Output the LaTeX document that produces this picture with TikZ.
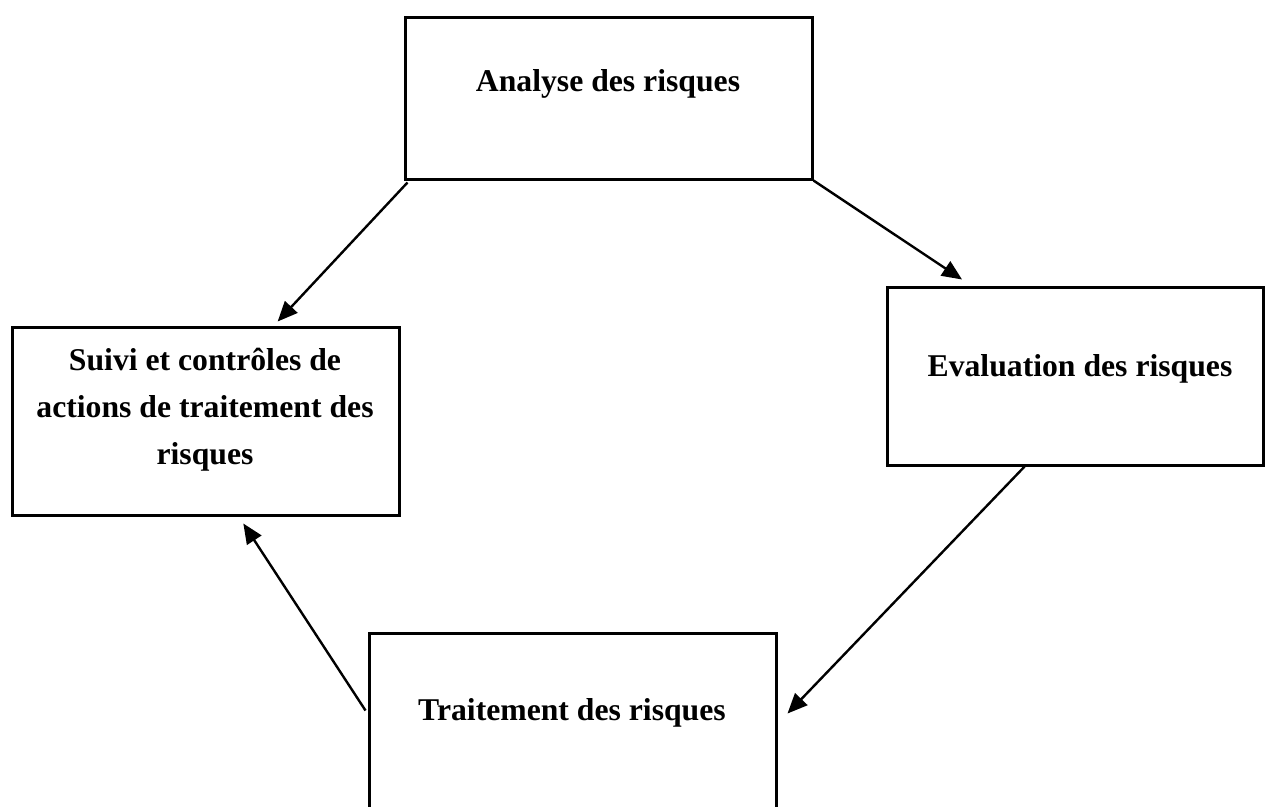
\documentclass[tikz,border=0pt]{standalone}
\usepackage{fontspec}
\setmainfont{Liberation Serif}
\usetikzlibrary{arrows.meta,calc}
\tikzset{
  box/.style={draw=black, line width=3pt, rectangle, inner sep=0pt, fill=none},
  lbl/.style={font=\fontsize{31.7}{47}\selectfont\bfseries, inner sep=0pt, align=center},
  arr/.style={draw=black, line width=2.4pt, -{Triangle[length=20pt,width=17pt]}}
}
\begin{document}
\begin{tikzpicture}[x=1pt,y=-1pt]
\clip (0,0) rectangle (1265,806);
\fill[white] (0,0) rectangle (1265,806);
% boxes
\node[box, minimum width=407pt, minimum height=162pt] (analyse) at (608.5,98) {};
\node[box, minimum width=376pt, minimum height=178pt] (eval) at (1075,376) {};
\node[box, minimum width=387pt, minimum height=188pt] (suivi) at (205.5,421) {};
\node[box, minimum width=407pt, minimum height=200pt] (trait) at (572.5,733) {};
% labels
\node[lbl] (lanalyse) at (608,84) {Analyse des risques};
\node[lbl] (leval) at (1080,369) {Evaluation des risques};
\node[lbl] (lsuivi) at (205,410) {Suivi et contrôles de\\actions de traitement des\\risques};
\node[lbl] (ltrait) at (572,713) {Traitement des risques};
% arrow end points
\coordinate (s1) at ($(analyse.south west)+(4,2)$);
\coordinate (t1) at ($(suivi.north west)!0.685!(suivi.north east)+(0,-4)$);
\coordinate (s2) at (analyse.south east);
\coordinate (t2) at ($(eval.north west)!0.202!(eval.north east)+(0,-6)$);
\coordinate (s3) at ($(eval.south west)!0.367!(eval.south east)$);
\coordinate (t3) at ($(trait.north east)+(10,82)$);
\coordinate (s4) at ($(trait.north west)+(-2,79)$);
\coordinate (t4) at ($(suivi.south west)!0.597!(suivi.south east)+(0,7)$);
% arrows
\draw[arr] (s1) -- (t1);
\draw[arr] (s2) -- (t2);
\draw[arr] (s3) -- (t3);
\draw[arr] (s4) -- (t4);
\end{tikzpicture}
\end{document}
